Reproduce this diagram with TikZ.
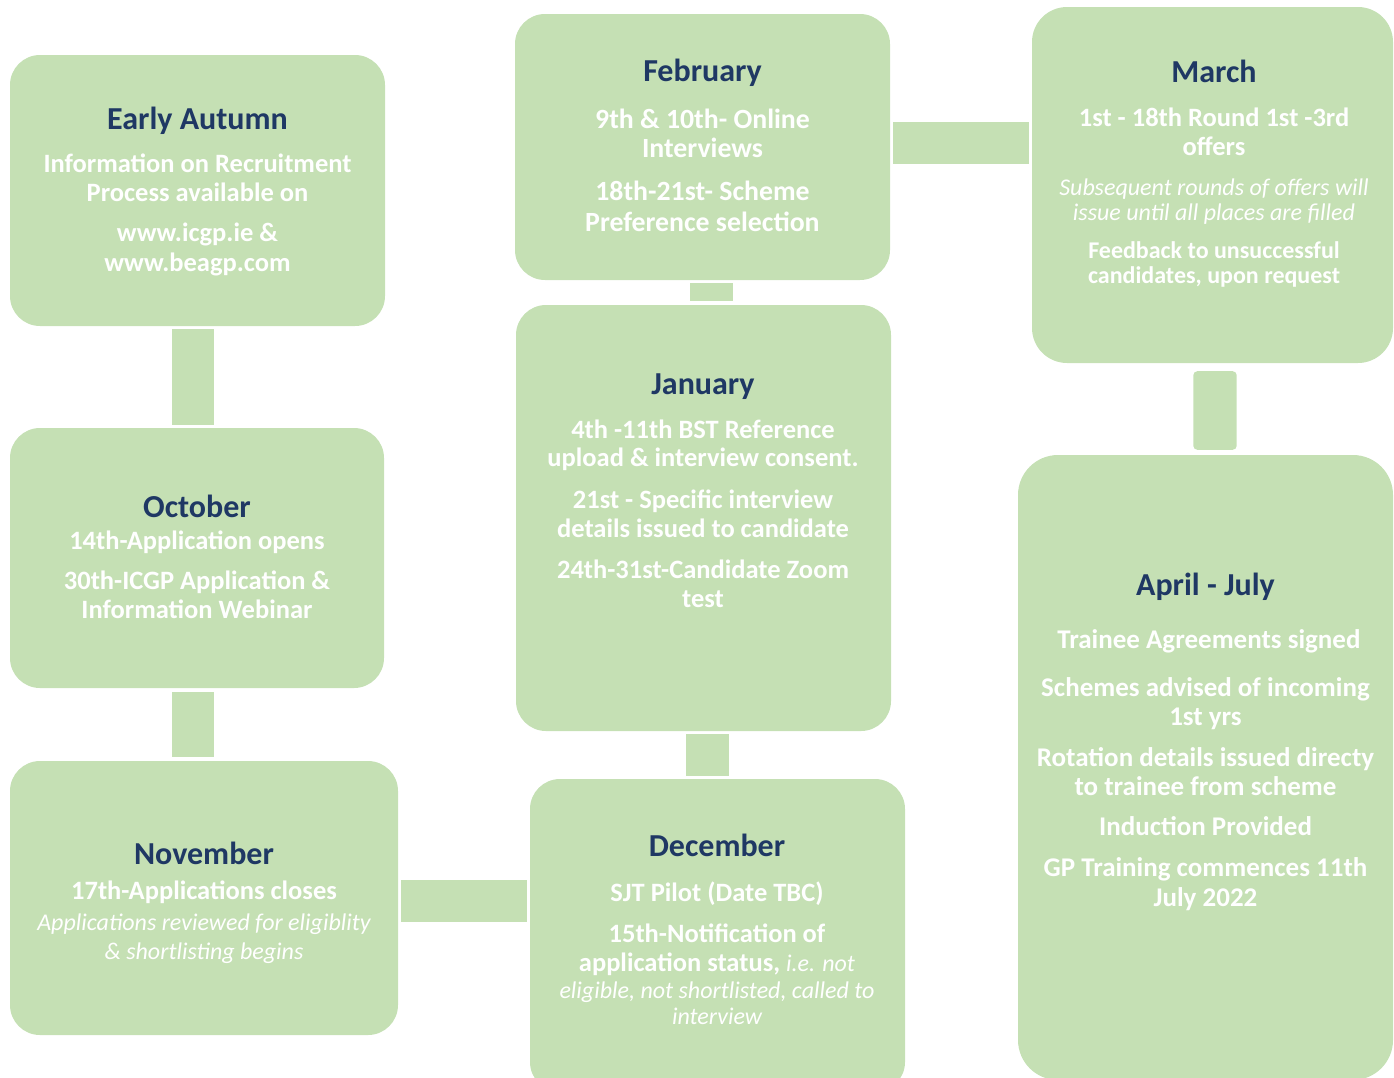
\documentclass[tikz,border=0pt]{standalone}
\usepackage{fontspec}
\setmainfont{Carlito}
\definecolor{boxgreen}{HTML}{C5E0B4}
\definecolor{navy}{HTML}{1F3864}
\tikzset{
  box/.style={fill=boxgreen, draw=none, rounded corners=30pt, inner sep=0pt},
  bar/.style={draw=boxgreen, line width=42pt},
  ttl/.style={anchor=base, inner sep=0pt, text=navy, font=\fontsize{32}{38}\selectfont\bfseries},
  txt/.style={anchor=base, inner sep=0pt, text=white, font=\fontsize{26.5}{32}\selectfont\bfseries},
  big/.style={anchor=base, inner sep=0pt, text=white, font=\fontsize{27.8}{33}\selectfont\bfseries},
  wid/.style={anchor=base, inner sep=0pt, text=white, font=\fontsize{27}{32}\selectfont\bfseries},
  itl/.style={anchor=base, inner sep=0pt, text=white, font=\fontsize{24}{29}\selectfont\itshape},
  sml/.style={anchor=base, inner sep=0pt, text=white, font=\fontsize{24}{29}\selectfont\bfseries},
  smi/.style={anchor=base, inner sep=0pt, text=white, font=\fontsize{24}{29}\selectfont\itshape},
}
\begin{document}
\begin{tikzpicture}[x=1pt,y=-1pt]
\useasboundingbox (0,0) rectangle (1394,1077);
% boxes
\node[box, minimum width=375pt, minimum height=271pt] (ea) at (197.5,190.5) {};
\node[box, minimum width=374pt, minimum height=260pt] (oct) at (197,558) {};
\node[box, minimum width=388pt, minimum height=274pt] (nov) at (204,898) {};
\node[box, minimum width=375pt, minimum height=313pt] (dec) at (717.5,935.5) {};
\node[box, minimum width=375pt, minimum height=426pt] (jan) at (703.5,518) {};
\node[box, minimum width=375pt, minimum height=266pt] (feb) at (702.5,147) {};
\node[box, rounded corners=35pt, minimum width=361pt, minimum height=356pt] (mar) at (1212.5,185) {};
\node[box, rounded corners=40pt, minimum width=375pt, minimum height=625pt] (apr) at (1205.5,767.5) {};
% connectors
\draw[bar, shorten <=3pt, shorten >=3pt] ([xshift=-4.5pt]ea.south) -- ([xshift=-4.5pt]ea.south |- oct.north);
\draw[bar, shorten <=4pt, shorten >=4pt] ([xshift=-4pt]oct.south) -- ([xshift=-4pt]oct.south |- nov.north);
\draw[bar, shorten <=3pt, shorten >=3pt] ([yshift=-3pt]nov.east) -- ([yshift=-3pt]nov.east -| dec.west);
\draw[bar, line width=43pt, shorten <=3pt, shorten >=2.5pt] ([xshift=-10pt]dec.north) -- ([xshift=-10pt]dec.north |- jan.south);
\draw[bar, line width=43pt, shorten <=4pt, shorten >=3pt] ([xshift=8pt]jan.north) -- ([xshift=8pt]jan.north |- feb.south);
\draw[bar, shorten <=3pt, shorten >=3pt] ([yshift=4pt]feb.east) -- ([yshift=4pt]feb.east -| mar.west);
\fill[boxgreen, rounded corners=4pt] ([xshift=-19.2pt,yshift=-8pt]mar.south) rectangle ([xshift=24.2pt,yshift=5pt]mar.south |- apr.north);
% Early Autumn
\node[ttl] (ea0) at (197.5,129.3) {Early Autumn};
\node[txt] (ea1) at (197.5,172.7) {Information on Recruitment};
\node[txt] (ea2) at (197.5,201.7) {Process available on};
\node[txt] (ea3) at (197.5,241.7) {www.icgp.ie \&};
\node[txt] (ea4) at (197.5,271.7) {www.beagp.com};
% October
\node[ttl] (oct0) at (197,517.7) {October};
\node[txt] (oct1) at (197,549) {14th-Application opens};
\node[txt] (oct2) at (197,589.3) {30th-ICGP Application \&};
\node[txt] (oct3) at (197,618.3) {Information Webinar};
% November
\node[ttl] (nov0) at (204,864) {November};
\node[txt] (nov1) at (204,899) {17th-Applications closes};
\node[itl] (nov2) at (204,930) {Applications reviewed for eligiblity};
\node[itl] (nov3) at (204,959) {\& shortlisting begins};
% December
\node[ttl] (dec0) at (717,856) {December};
\node[txt] (dec1) at (717,901.7) {SJT Pilot (Date TBC)};
\node[txt] (dec2) at (717,942.7) {15th-Notification of};
\node[txt] (dec3) at (717,971) {application status, {\fontsize{24}{29}\selectfont\mdseries\itshape i.e. not}};
\node[smi] (dec4) at (717,998.3) {eligible, not shortlisted, called to};
\node[smi] (dec5) at (717,1024) {interview};
% January
\node[ttl] (jan0) at (703,394) {January};
\node[txt] (jan1) at (703,438.3) {4th -11th BST Reference};
\node[txt] (jan2) at (703,466.7) {upload \& interview consent.};
\node[txt] (jan3) at (703,508.3) {21st - Specific interview};
\node[txt] (jan4) at (703,537.3) {details issued to candidate};
\node[txt] (jan5) at (703,578.3) {24th-31st-Candidate Zoom};
\node[txt] (jan6) at (703,607.3) {test};
% February
\node[ttl] (feb0) at (702.5,81.7) {February};
\node[big] (feb1) at (702.5,128.3) {9th \& 10th- Online};
\node[big] (feb2) at (702.5,157.7) {Interviews};
\node[big] (feb3) at (702.5,200.7) {18th-21st- Scheme};
\node[big] (feb4) at (702.5,231.7) {Preference selection};
% March
\node[ttl] (mar0) at (1214,82.7) {March};
\node[txt] (mar1) at (1214,126.7) {1st - 18th Round 1st -3rd};
\node[txt] (mar2) at (1214,155.3) {offers};
\node[smi] (mar3) at (1214,195) {Subsequent rounds of offers will};
\node[smi] (mar4) at (1214,220) {issue until all places are filled};
\node[sml] (mar5) at (1214,258.3) {Feedback to unsuccessful};
\node[sml] (mar6) at (1214,283.3) {candidates, upon request};
% April - July
\node[ttl] (apr0) at (1205.5,595) {April - July};
\node[wid] (apr1) at (1209,648.3) {Trainee Agreements signed};
\node[wid] (apr2) at (1205.5,696.7) {Schemes advised of incoming};
\node[wid] (apr3) at (1205.5,725) {1st yrs};
\node[wid] (apr4) at (1205.5,766.7) {Rotation details issued directy};
\node[wid] (apr5) at (1205.5,795.7) {to trainee from scheme};
\node[wid] (apr6) at (1205.5,835.7) {Induction Provided};
\node[wid] (apr7) at (1205.5,876.7) {GP Training commences 11th};
\node[wid] (apr8) at (1205.5,906) {July 2022};
\end{tikzpicture}
\end{document}
